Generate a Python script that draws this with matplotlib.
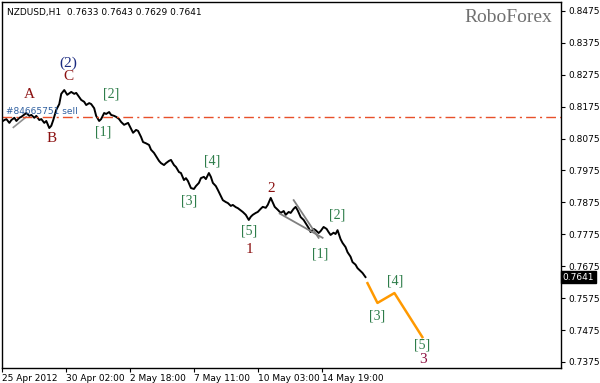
import matplotlib
matplotlib.use("Agg")
import matplotlib.pyplot as plt

# hourly closes (bar index = pixel column)
bars = [0, 3, 5, 8, 10, 13, 15, 18, 20, 23, 25, 28, 30, 33, 35, 38, 40, 43, 45, 48,
        50, 52, 55, 58, 60, 63, 66, 70, 73, 75, 78, 80, 83, 85, 88, 90, 93, 95, 98, 100,
        103, 105, 108, 110, 113, 115, 118, 120, 123, 127, 130, 132, 135, 137, 140, 142, 145, 148, 150, 153,
        155, 158, 160, 163, 165, 168, 170, 173, 175, 178, 180, 183, 185, 187, 190, 193, 195, 198, 200, 203,
        205, 208, 210, 212, 215, 217, 220, 222, 225, 227, 230, 232, 235, 237, 240, 242, 245, 248, 250, 252,
        255, 257, 260, 262, 265, 267, 270, 272, 274, 277, 280, 283, 285, 288, 290, 293, 295, 297, 300, 303,
        305, 308, 310, 313, 315, 318, 320, 323, 326, 328, 330, 333, 335, 337, 340, 342, 345, 347, 350, 352,
        355, 357, 360, 362, 365]
close = [0.8127, 0.8133, 0.8136, 0.8124, 0.8133, 0.8140, 0.8130, 0.8140, 0.8143, 0.8150, 0.8155, 0.8146, 0.8149, 0.8140, 0.8146, 0.8133, 0.8136, 0.8124, 0.8130, 0.8108,
         0.8115, 0.8133, 0.8165, 0.8183, 0.8215, 0.8227, 0.8212, 0.8221, 0.8215, 0.8218, 0.8205, 0.8196, 0.8190, 0.8180, 0.8186, 0.8183, 0.8170, 0.8146, 0.8130, 0.8136,
         0.8155, 0.8152, 0.8158, 0.8149, 0.8146, 0.8143, 0.8136, 0.8127, 0.8118, 0.8124, 0.8105, 0.8093, 0.8102, 0.8099, 0.8080, 0.8064, 0.8060, 0.8055, 0.8040, 0.8030,
         0.8020, 0.8005, 0.7998, 0.7992, 0.7998, 0.8005, 0.8008, 0.7992, 0.7986, 0.7970, 0.7967, 0.7945, 0.7951, 0.7942, 0.7920, 0.7917, 0.7926, 0.7936, 0.7951, 0.7955,
         0.7948, 0.7967, 0.7955, 0.7936, 0.7926, 0.7914, 0.7895, 0.7882, 0.7876, 0.7873, 0.7864, 0.7867, 0.7860, 0.7857, 0.7850, 0.7845, 0.7836, 0.7820, 0.7830, 0.7836,
         0.7842, 0.7845, 0.7855, 0.7861, 0.7858, 0.7867, 0.7889, 0.7875, 0.7861, 0.7852, 0.7842, 0.7848, 0.7836, 0.7845, 0.7842, 0.7855, 0.7861, 0.7850, 0.7829, 0.7820,
         0.7810, 0.7795, 0.7782, 0.7792, 0.7788, 0.7779, 0.7785, 0.7798, 0.7792, 0.7782, 0.7773, 0.7780, 0.7776, 0.7788, 0.7760, 0.7748, 0.7735, 0.7719, 0.7705, 0.7688,
         0.7680, 0.7669, 0.7660, 0.7654, 0.7641]

# wave forecast (orange) and wedge lines
fc_bars = [367, 377, 394, 422]
fc_price = [0.7622, 0.7560, 0.7591, 0.7453]
wedge_lo = ([279, 322], [0.7840, 0.7764])
wedge_hi = ([293, 318], [0.7882, 0.7764])

order_level = 0.8143
last_price = 0.7641

yticks = [0.8475, 0.8375, 0.8275, 0.8175, 0.8075, 0.7975, 0.7875, 0.7775, 0.7675, 0.7575, 0.7475, 0.7375]
xtick_bars = [1, 65, 129, 193, 257, 321]
xtick_labels = ["25 Apr 2012", "30 Apr 02:00", "2 May 18:00", "7 May 11:00", "10 May 03:00", "14 May 19:00"]

# wave labels: (text, bar, price, colour)
red = "#8b1010"
grn = "#2e7d4a"
waves = [
    ("(2)", 67, 0.8310, "#1a2a80"), ("C", 67, 0.8270, red), ("A", 28, 0.8212, red),
    ("B", 50, 0.8075, red), ("[2]", 110, 0.8215, grn), ("[1]", 102, 0.8095, grn),
    ("[4]", 211, 0.8005, grn), ("[3]", 188, 0.7880, grn), ("[5]", 248, 0.7785, grn),
    ("1", 249, 0.7727, red), ("2", 270, 0.7920, red), ("[1]", 320, 0.7713, grn),
    ("[2]", 337, 0.7835, grn), ("[3]", 377, 0.7519, grn), ("[4]", 395, 0.7630, grn),
    ("[5]", 422, 0.7427, grn), ("3", 423, 0.7383, "#8b1040"),
]

fig = plt.figure(figsize=(6, 3.83), dpi=100)
ax = fig.add_axes([0.004, 0.039, 0.931, 0.956])

ax.plot(bars, close, color="black", lw=1.4)
ax.plot(fc_bars, fc_price, color="#ff9900", lw=1.8)
ax.plot(*wedge_lo, color="#808080", lw=1.3)
ax.plot(*wedge_hi, color="#808080", lw=1.3)
ax.plot([12, 25], [0.8110, 0.8143], color="#909090", lw=1.2)
ax.axhline(order_level, color="#e8502a", lw=1, dashes=(7, 3, 1.5, 3))
ax.text(5, order_level + 0.0002, "#84665751 sell", fontsize=6.5, color="#3060a0",
        va="bottom", ha="left")

for txt, bx, py, col in waves:
    ax.text(bx, py, txt, fontsize=11 if col != grn else 10, color=col,
            family="Liberation Serif", ha="center", va="center")

ax.text(6, 0.8470, "NZDUSD,H1  0.7633 0.7643 0.7629 0.7641", fontsize=6.5,
        ha="left", va="center")
ax.text(552, 0.8455, "RoboForex", fontsize=14, color="#707070",
        family="Liberation Serif", ha="right", va="center")

ax.set_xlim(2, 561)
ax.set_ylim(0.7356, 0.8503)
ax.yaxis.tick_right()
ax.set_yticks(yticks)
ax.set_yticklabels([f"{v:.4f}" for v in yticks])
ax.set_xticks(xtick_bars)
ax.set_xticklabels(xtick_labels, ha="left")
ax.tick_params(axis="both", labelsize=6.5, length=3, width=0.8, pad=1)
ax.tick_params(axis="y", pad=2)
for s in ax.spines.values():
    s.set_linewidth(1)

ax.text(1.003, last_price, f"{last_price:.4f}", transform=ax.get_yaxis_transform(),
        fontsize=6.5, color="white", va="center", ha="left",
        bbox=dict(boxstyle="square,pad=0.15", fc="black", ec="black"))

fig.savefig("out.png", dpi=100)
